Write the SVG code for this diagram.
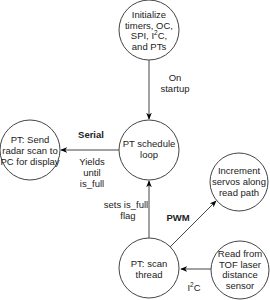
<svg xmlns="http://www.w3.org/2000/svg" width="270" height="300" viewBox="0 0 270 300">
<defs>
<marker id="ah" viewBox="0 0 10 10" refX="9" refY="5" markerWidth="7" markerHeight="7" orient="auto" markerUnits="userSpaceOnUse">
<path d="M0,1 L10,5 L0,9 L3,5 Z" fill="#000"/>
</marker>
<style>
.n{fill:#fff;stroke:#444;stroke-width:1}
.t{font-family:"Liberation Sans",Arial,sans-serif;font-size:9.5px;fill:#222;text-anchor:middle}
.b{font-weight:bold}
.e{stroke:#444;stroke-width:1;fill:none;marker-end:url(#ah)}
</style>
</defs>
<rect width="270" height="300" fill="#fff"/>
<g id="edges">
<line class="e" x1="149" y1="60" x2="149" y2="119"/>
<line class="e" x1="119" y1="150" x2="61" y2="150"/>
<line class="e" x1="149" y1="238" x2="149" y2="181"/>
<line class="e" x1="170" y1="247" x2="216" y2="201"/>
<line class="e" x1="211" y1="269" x2="181" y2="269"/>
<text class="t" x="175" y="81">On</text>
<text class="t" x="175" y="92">startup</text>
<text class="t b" x="91" y="138">Serial</text>
<text class="t" x="92" y="165">Yields</text>
<text class="t" x="92" y="176">until</text>
<text class="t" x="92" y="187">is_full</text>
<text class="t" x="126" y="208">sets is_full</text>
<text class="t" x="128" y="219">flag</text>
<text class="t b" x="178" y="221">PWM</text>
<text class="t" x="194" y="291">I<tspan font-size="6.5" dy="-4">2</tspan><tspan dy="4">C</tspan></text>
</g>
<g id="init">
<circle class="n" cx="149" cy="30" r="30"/>
<text class="t" x="149" y="18">Initialize</text>
<text class="t" x="149" y="28.5">timers, OC,</text>
<text class="t" x="149" y="39">SPI, I<tspan font-size="6.5" dy="-4">2</tspan><tspan dy="4">C,</tspan></text>
<text class="t" x="149" y="49.5">and PTs</text>
</g>
<g id="schedule">
<circle class="n" cx="149" cy="150" r="30"/>
<text class="t" x="149" y="147">PT schedule</text>
<text class="t" x="149" y="158">loop</text>
</g>
<g id="send">
<circle class="n" cx="30" cy="150" r="30"/>
<text class="t" x="30" y="143">PT: Send</text>
<text class="t" x="30" y="154">radar scan to</text>
<text class="t" x="30" y="165">PC for display</text>
</g>
<g id="servos">
<circle class="n" cx="239" cy="182" r="29"/>
<text class="t" x="239" y="173.5">Increment</text>
<text class="t" x="239" y="184.5">servos along</text>
<text class="t" x="239" y="195.5">read path</text>
</g>
<g id="scan">
<circle class="n" cx="149" cy="268" r="30"/>
<text class="t" x="149" y="267">PT: scan</text>
<text class="t" x="149" y="278">thread</text>
</g>
<g id="tof">
<circle class="n" cx="240" cy="270" r="29"/>
<text class="t" x="240" y="257">Read from</text>
<text class="t" x="240" y="267.5">TOF laser</text>
<text class="t" x="240" y="278">distance</text>
<text class="t" x="240" y="288.5">sensor</text>
</g>
</svg>
